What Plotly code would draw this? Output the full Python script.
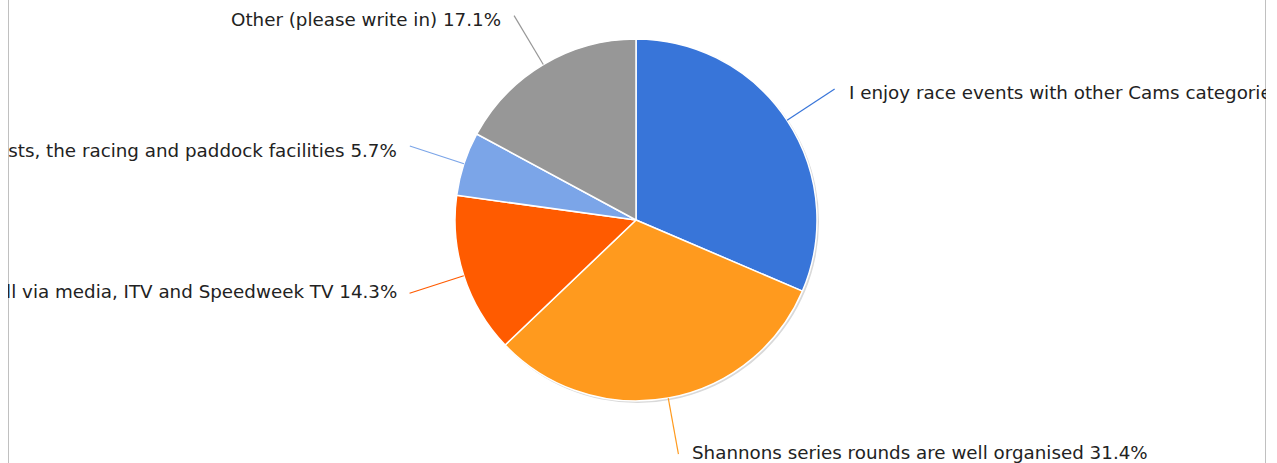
import math
import plotly.graph_objects as go

labels = [
    "I enjoy race events with other Cams categories",
    "Shannons series rounds are well organised",
    "The series is promoted well via media, ITV and Speedweek TV",
    "Value for money in entry costs, the racing and paddock facilities",
    "Other (please write in)",
]
values = [31.4, 31.4, 14.3, 5.7, 17.1]
colors = ["#3875d9", "#ff9a1e", "#ff5b00", "#7ba5e8", "#979797"]

W, H = 1258, 463
CX, CY, R = 628, 220, 181  # pie centre / radius in figure pixels
LEAD = 238

def px(x):
    return x / W

def py(y):
    return 1 - y / H

fig = go.Figure()
fig.add_trace(go.Pie(
    labels=labels, values=values, sort=False, direction="clockwise", rotation=0,
    marker=dict(colors=colors, line=dict(color="white", width=1.5)),
    textinfo="none", hoverinfo="label+percent", showlegend=False,
    domain=dict(x=[px(CX - R), px(CX + R)], y=[py(CY + R), py(CY - R)]),
))

shapes = []
annotations = []
# subtle shadow
shapes.append(dict(type="circle", xref="paper", yref="paper", layer="below",
                   x0=px(CX - R + 1), x1=px(CX + R + 2), y0=py(CY + R + 2), y1=py(CY - R + 1),
                   fillcolor="#d9d9d9", line=dict(width=0)))

total = sum(values)
cum = 0
for lab, v, c in zip(labels, values, colors):
    mid = (cum + v / 2) / total * 2 * math.pi
    cum += v
    s, co = math.sin(mid), math.cos(mid)
    x0, y0 = CX + R * s, CY - R * co
    x1, y1 = CX + LEAD * s, CY - LEAD * co
    shapes.append(dict(type="line", xref="paper", yref="paper",
                       x0=px(x0), y0=py(y0), x1=px(x1), y1=py(y1),
                       line=dict(color=c, width=1.2)))
    right = s > 0
    ty = y1 + (4 if co > 0 else -2)
    annotations.append(dict(
        xref="paper", yref="paper", x=px(x1 + (12 if right else -11)), y=py(ty),
        xanchor="left" if right else "right", yanchor="middle",
        text=f"{lab} {v}%", showarrow=False,
        font=dict(family="DejaVu Sans", size=18.3, color="#222222"),
    ))

# frame lines
shapes.append(dict(type="line", xref="paper", yref="paper", x0=0.0004, x1=0.0004, y0=0, y1=1,
                   line=dict(color="#c0c0c0", width=1)))
shapes.append(dict(type="line", xref="paper", yref="paper", x0=0.9996, x1=0.9996, y0=0, y1=1,
                   line=dict(color="#c0c0c0", width=1)))

fig.update_layout(
    width=W, height=H, margin=dict(l=0, r=0, t=0, b=0),
    paper_bgcolor="white", plot_bgcolor="white",
    shapes=shapes, annotations=annotations,
)
fig.write_html(
    "out.html",
    post_script="document.body.style.marginTop='0px';document.body.style.marginBottom='0px';document.body.style.overflow='hidden';",
)
